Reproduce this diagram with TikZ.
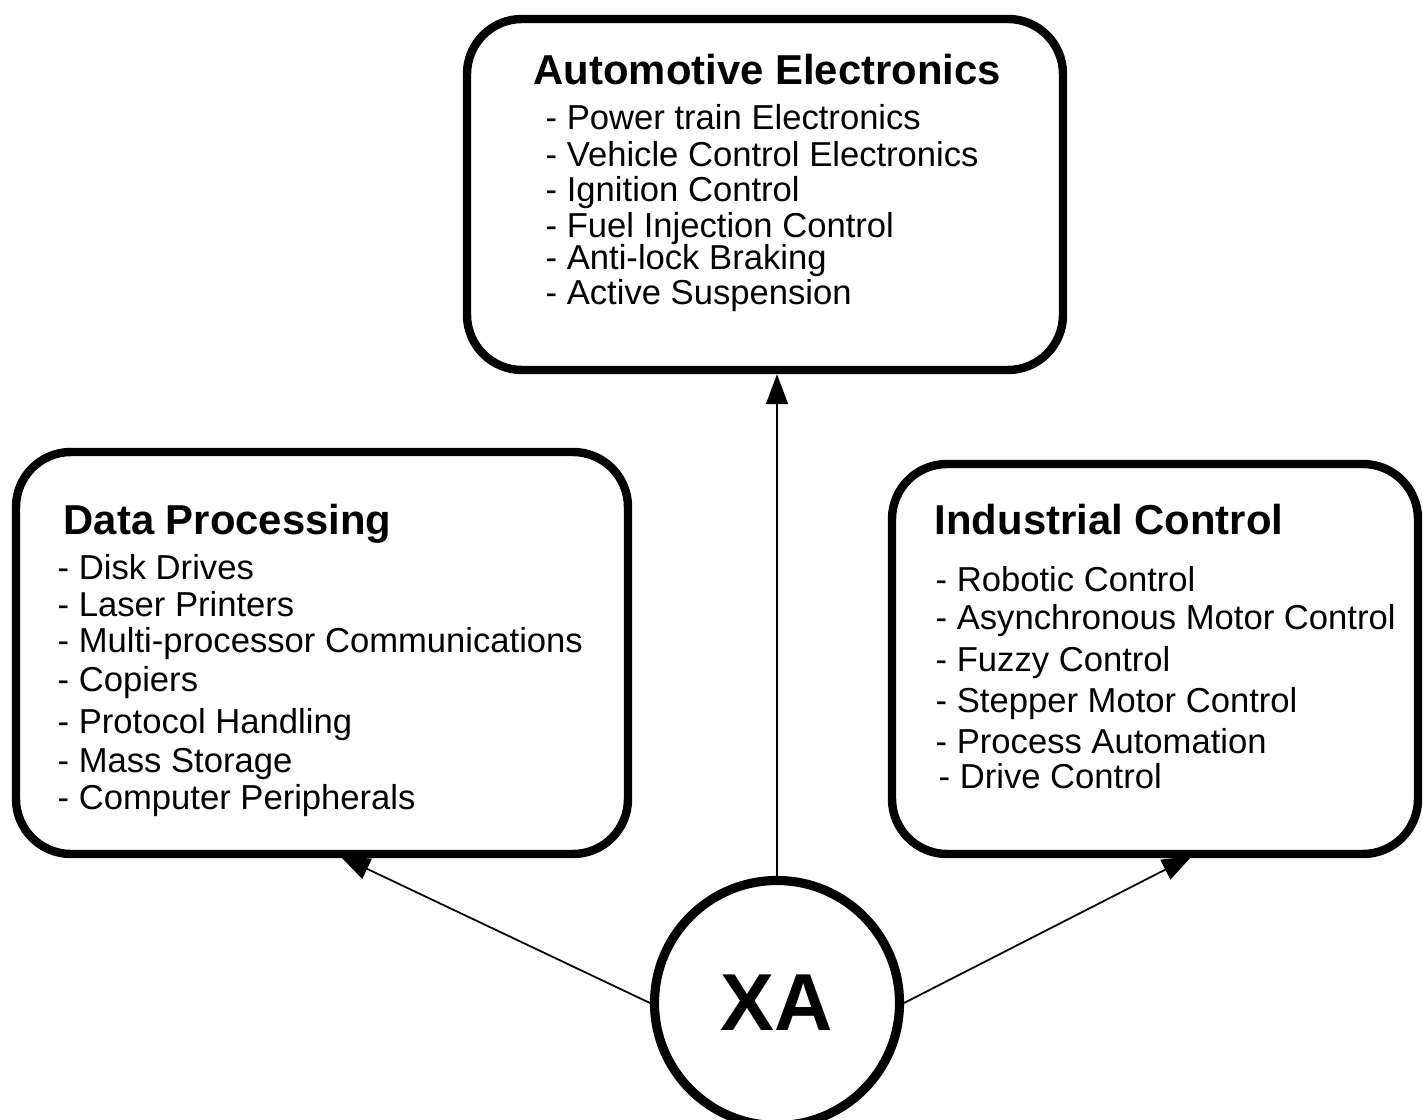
\documentclass[tikz,border=0pt]{standalone}
\usepackage{fontspec}
\setmainfont{Liberation Sans}
\usetikzlibrary{shapes.geometric, arrows.meta}

\begin{document}
\begin{tikzpicture}[
        box/.style={draw, line width=2.4pt, rounded corners=0.55cm},
        hub/.style={draw, circle, line width=2.6pt, minimum size=2.45cm, inner sep=0pt, font=\bfseries\fontsize{23}{26}\selectfont},
        title/.style={anchor=base west, inner sep=0pt, font=\bfseries\fontsize{11.9}{14}\selectfont},
        item/.style={anchor=base west, inner sep=0pt, font=\fontsize{9.85}{12}\selectfont},
        link/.style={-{Triangle[length=0.3cm, width=0.22cm]}, line width=0.5pt}
    ]
        \useasboundingbox (0,0) rectangle (14.23,11.20);

        % boxes
        \node[box, minimum width=5.96cm, minimum height=3.51cm] (auto) at (7.65,9.255) {};
        \node[box, minimum width=6.12cm, minimum height=4.02cm] (data) at (3.22,4.67) {};
        \node[box, minimum width=5.26cm, minimum height=3.90cm] (ind) at (11.55,4.61) {};
        \node[hub] (xa) at (7.77,1.17) {XA};

        % titles
        \node[title] (autoT) at (5.33,10.35) {Automotive Electronics};
        \node[title] (dataT) at (0.63,5.85) {Data Processing};
        \node[title] (indT) at (9.34,5.85) {Industrial Control};

        % lists
        \foreach \txt/\y [count=\i] in {Power train Electronics/9.90, Vehicle Control Electronics/9.53,
                Ignition Control/9.18, Fuel Injection Control/8.82, Anti-lock Braking/8.50, Active Suspension/8.15}
            \node[item] (auto\i) at (5.45,\y) {- \txt};
        \foreach \txt/\y [count=\i] in {Disk Drives/5.40, Laser Printers/5.03, Multi-processor Communications/4.67,
                Copiers/4.28, Protocol Handling/3.86, Mass Storage/3.47, Computer Peripherals/3.10}
            \node[item] (data\i) at (0.57,\y) {- \txt};
        \foreach \txt/\x/\y [count=\i] in {Robotic Control/9.35/5.28, Asynchronous Motor Control/9.35/4.90,
                Fuzzy Control/9.35/4.48, Stepper Motor Control/9.35/4.07, Process Automation/9.35/3.66, Drive Control/9.38/3.31}
            \node[item] (ind\i) at (\x,\y) {- \txt};

        % XA -> Automotive
        \draw[link] (xa) -- (xa |- auto.south);

        % XA -> Data Processing
        \coordinate (dataIn) at (3.40,2.64);
        \draw[link] (xa.west) -- (dataIn);

        % XA -> Industrial
        \coordinate (indIn) at (11.92,2.64);
        \draw[link] (xa.east) -- (indIn);
    \end{tikzpicture}
\end{document}
